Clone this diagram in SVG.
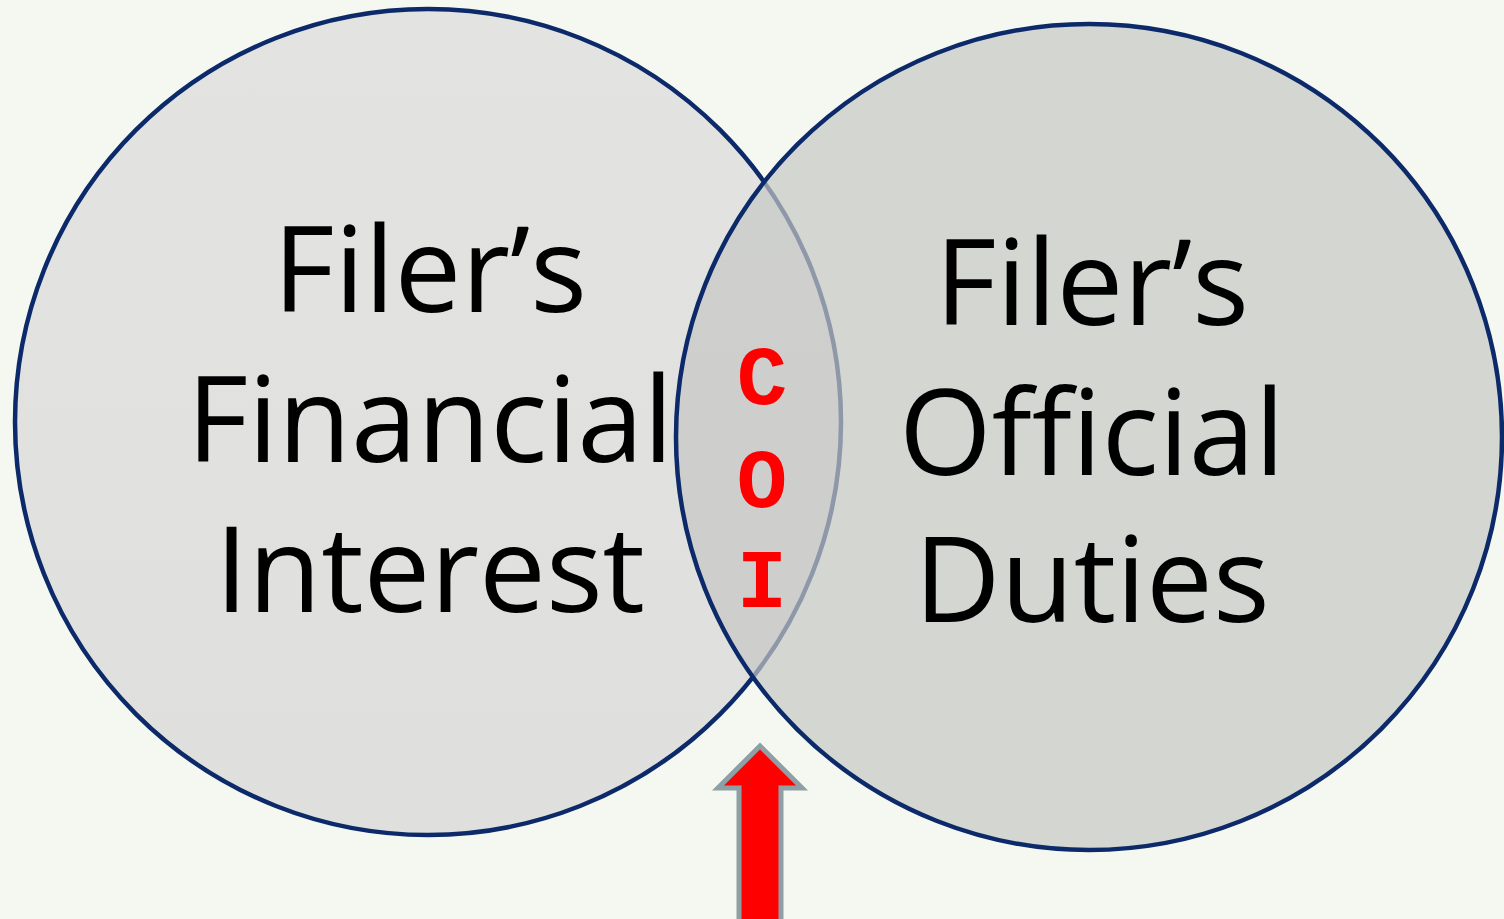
<svg xmlns="http://www.w3.org/2000/svg" width="1504" height="919" viewBox="0 0 1504 919">
  <defs>
    <linearGradient id="gLeft" x1="0" y1="0" x2="0" y2="1">
      <stop offset="0" stop-color="#e3e4e1"/>
      <stop offset="1" stop-color="#dfe0dd"/>
    </linearGradient>
    <style>
      .circle { stroke: #0c2a6a; stroke-width: 4.5; }
      .label { font-family: "Open Sans", "Liberation Sans", sans-serif; font-size: 119px; fill: #000; text-anchor: middle; }
      .coi { font-family: "Liberation Mono", "DejaVu Sans Mono", monospace; font-weight: bold; font-size: 84px; fill: #ff0000; text-anchor: middle; }
      .arrow { fill: #ff0000; stroke: #8e9fa6; stroke-width: 5; stroke-linejoin: miter; }
    </style>
  </defs>

  <!-- page background -->
  <rect width="1504" height="919" fill="#f5f8f0"/>

  <!-- left set: financial interest -->
  <g id="financial-interest">
    <circle class="circle" cx="428" cy="422" r="413" fill="url(#gLeft)"/>
    <text class="label" x="430" y="312">Filer’s</text>
    <text class="label" x="430" y="462">Financial</text>
    <text class="label" x="430" y="612">Interest</text>
  </g>

  <!-- right set: official duties (translucent, so the overlap darkens) -->
  <g id="official-duties">
    <circle class="circle" cx="1089" cy="437" r="413" fill="#c6c7c4" fill-opacity="0.7"/>
    <text class="label" x="1092" y="325">Filer’s</text>
    <text class="label" x="1092" y="475">Official</text>
    <text class="label" x="1092" y="622">Duties</text>
  </g>

  <!-- overlap label -->
  <g id="coi">
    <text class="coi" x="762" y="404">C</text>
    <text class="coi" x="762" y="507">O</text>
    <text class="coi" x="762" y="607">I</text>
  </g>

  <!-- pointer arrow -->
  <g id="connectors">
    <path class="arrow" d="M760 746 L802 788 L781 788 L781 925 L739 925 L739 788 L718 788 Z"/>
  </g>
</svg>
